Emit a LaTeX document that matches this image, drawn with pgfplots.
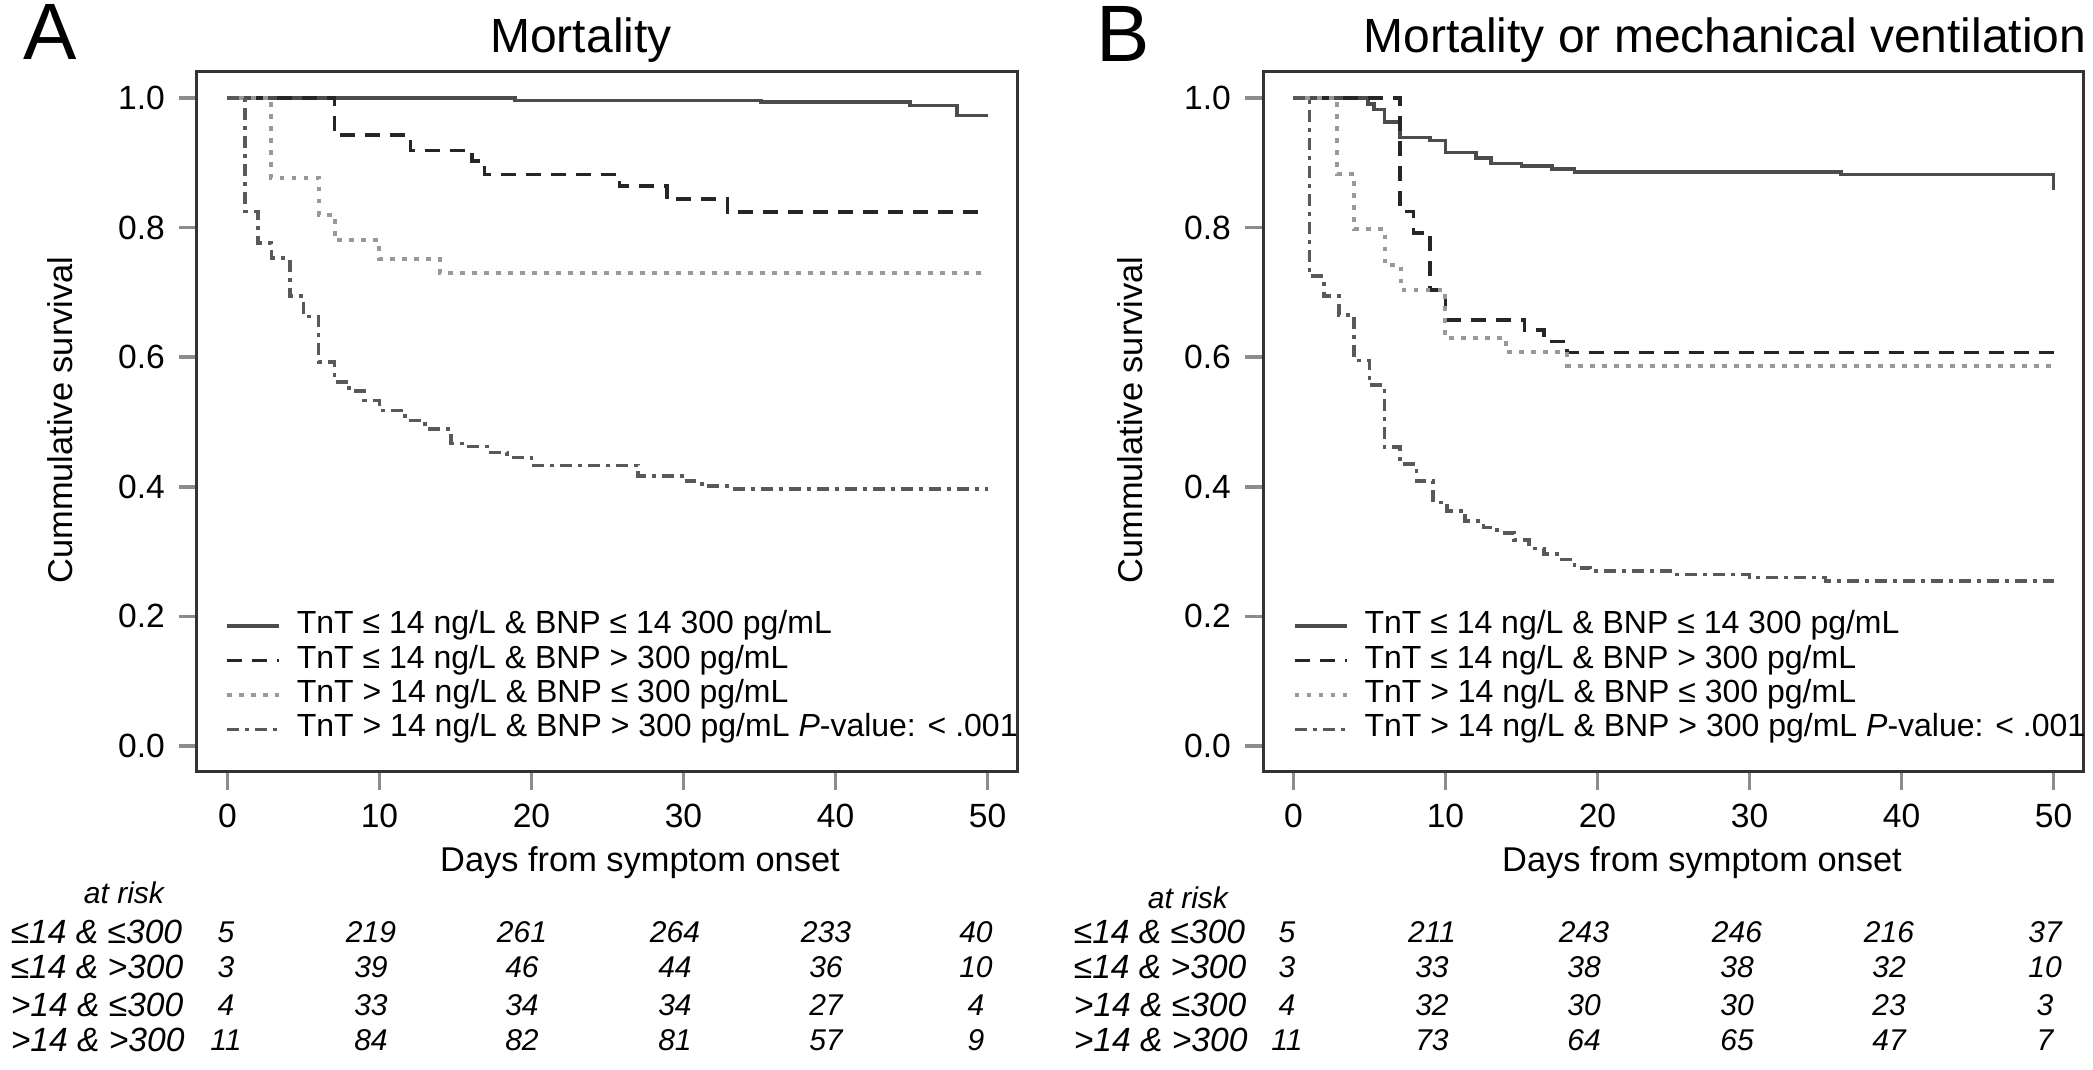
\documentclass[border=0pt]{standalone}
\usepackage{fontspec}
\setmainfont{Liberation Sans}
\usepackage{pgfplots}
\pgfplotsset{compat=1.18}

\pgfplotsset{
  kmaxis/.style={
    scale only axis, width=205.25pt, height=175pt, anchor=south west,
    xmin=-2, xmax=52, ymin=-0.04, ymax=1.04,
    xtick={0,10,...,50}, ytick={0,0.2,0.4,0.6,0.8,1.0},
    xtick pos=bottom, ytick pos=left, tick align=outside,
    major tick length=4.5pt,
    tick style={draw=black!45, line width=0.9pt},
    axis line style={draw=black!80, line width=0.75pt},
    ticklabel style={font=\fontsize{8.4}{10}\selectfont},
    yticklabel style={/pgf/number format/fixed, /pgf/number format/fixed zerofill, /pgf/number format/precision=1},
    /pgf/number format/assume math mode=true,
    clip=false,
    legend cell align=left,
    legend style={draw=none, fill=none, anchor=north west,
      font=\fontsize{8}{9}\selectfont, inner sep=0pt, row sep=0pt,
      nodes={inner sep=0pt, text height=6.2pt, text depth=2.4pt}},
    legend image code/.code={\draw[##1] (0pt,0pt) -- (13pt,0pt); \path (17pt,0pt);},
  },
  s1/.style={const plot, no marks, draw=black!70, line width=0.9pt},
  s2/.style={const plot, no marks, draw=black!85, line width=0.9pt, dash pattern=on 3.75pt off 2.5pt},
  s3/.style={const plot, no marks, draw=black!40, line width=1pt, dash pattern=on 1.2pt off 1.8pt},
  s4/.style={const plot, no marks, draw=black!65, line width=0.9pt, dash pattern=on 3pt off 1.5pt on 1pt off 1.5pt},
}

\begin{document}
\begin{tikzpicture}
\useasboundingbox (0,0) rectangle (523.25pt,267.5pt);

% Panel A: mortality
\begin{axis}[kmaxis, at={(49.25pt,74.5pt)}, legend style={at={(0.033,0.234)}}]
\addplot[s1] coordinates {(0,1) (18.9,0.996) (35.1,0.994) (44.9,0.988) (48,0.973) (50,0.973)};
\addlegendentry{TnT ≤ 14 ng/L \& BNP ≤ 14 300 pg/mL}
\addplot[s2] coordinates {(0,1) (7.05,0.943) (12.05,0.919) (16.1,0.903) (16.9,0.882) (25.8,0.864) (28.9,0.844) (32.9,0.824) (50,0.824)};
\addlegendentry{TnT ≤ 14 ng/L \& BNP > 300 pg/mL}
\addplot[s3] coordinates {(0,1) (2.9,0.877) (6.0,0.82) (7.05,0.781) (10.0,0.751) (14.0,0.73) (50,0.73)};
\addlegendentry{TnT > 14 ng/L \& BNP ≤ 300 pg/mL}
\addplot[s4] coordinates {(0,1) (1.15,0.825) (2.0,0.776) (2.9,0.753) (4.1,0.694) (5.0,0.663) (6.0,0.593) (7.05,0.562) (8.0,0.548) (9.0,0.533) (10.0,0.518) (11.7,0.502) (13.0,0.489) (14.7,0.467) (15.7,0.462) (17.1,0.453) (18.4,0.445) (20,0.433) (27,0.417) (30.2,0.409) (31.2,0.401) (32.9,0.397) (50,0.397)};
\addlegendentry{TnT > 14 ng/L \& BNP > 300 pg/mL \textit{P}-value: < .001}
\end{axis}

% Panel B: mortality or mechanical ventilation
\begin{axis}[kmaxis, at={(315.75pt,74.5pt)}, legend style={at={(0.035,0.234)}}]
\addplot[s1] coordinates {(0,1) (4.9,0.991) (5.3,0.982) (6.0,0.963) (7.0,0.939) (9.0,0.934) (10.0,0.916) (12.0,0.907) (13.0,0.899) (15.0,0.895) (17.0,0.89) (18.5,0.886) (36,0.882) (50,0.858)};
\addlegendentry{TnT ≤ 14 ng/L \& BNP ≤ 14 300 pg/mL}
\addplot[s2] coordinates {(0,1) (7.0,0.825) (7.9,0.792) (9.0,0.704) (10.0,0.657) (15.2,0.642) (16.5,0.624) (18,0.607) (50,0.607)};
\addlegendentry{TnT ≤ 14 ng/L \& BNP > 300 pg/mL}
\addplot[s3] coordinates {(0,1) (2.9,0.882) (4.0,0.797) (6.0,0.742) (7.06,0.704) (10.0,0.629) (14.0,0.608) (18.0,0.587) (50,0.587)};
\addlegendentry{TnT > 14 ng/L \& BNP ≤ 300 pg/mL}
\addplot[s4] coordinates {(0,1) (1.07,0.725) (2.0,0.694) (3.0,0.665) (4.0,0.595) (5.0,0.557) (6.0,0.461) (7.0,0.435) (8.1,0.409) (9.2,0.376) (10.1,0.363) (11.3,0.347) (12.5,0.337) (13.4,0.329) (14.5,0.318) (15.5,0.305) (16.5,0.296) (17.5,0.288) (18.5,0.275) (19.5,0.27) (25,0.265) (30,0.26) (35,0.255) (50,0.255)};
\addlegendentry{TnT > 14 ng/L \& BNP > 300 pg/mL \textit{P}-value: < .001}
\end{axis}

% texts placed in pixel units of the reference (origin top left)
\begin{scope}[x=0.25pt, y=-0.25pt, yshift=267.5pt]
  \node[anchor=base, font=\fontsize{20}{22}\selectfont] at (50,60) {A};
  \node[anchor=base, font=\fontsize{20}{22}\selectfont] at (1123,62) {B};
  \node[anchor=base, font=\fontsize{12}{14}\selectfont] at (581,53) {Mortality};
  \node[anchor=base, font=\fontsize{12}{14}\selectfont] at (1725,53) {Mortality or mechanical ventilation};
  \node[anchor=base, font=\fontsize{8.6}{10}\selectfont] at (640,872) {Days from symptom onset};
  \node[anchor=base, font=\fontsize{8.6}{10}\selectfont] at (1702,872) {Days from symptom onset};
  \node[rotate=90, font=\fontsize{8.6}{10}\selectfont] at (60,420) {Cummulative survival};
  \node[rotate=90, font=\fontsize{8.6}{10}\selectfont] at (1130,420) {Cummulative survival};

  % at-risk tables
  \begin{scope}[every node/.style={font=\fontsize{7.5}{8.5}\itshape, inner sep=0pt}]
    \node at (124,893) {at risk};
    \node at (1188,898) {at risk};
    \foreach \y/\lab in {932/{≤14 \& ≤300}, 967/{≤14 \& >300}, 1005/{>14 \& ≤300}, 1040/{>14 \& >300}} {
      \node[anchor=west, font=\fontsize{8.4}{9}\itshape] at (10,\y) {\lab};
      \node[anchor=west, font=\fontsize{8.4}{9}\itshape] at (1073,\y) {\lab};
    }
    \foreach \x/\a/\b/\c/\d in {226/5/3/4/11, 371/219/39/33/84, 522/261/46/34/82, 675/264/44/34/81, 826/233/36/27/57, 976/40/10/4/9} {
      \node at (\x,932) {\a};
      \node at (\x,967) {\b};
      \node at (\x,1005) {\c};
      \node at (\x,1040) {\d};
    }
    \foreach \x/\a/\b/\c/\d in {1287/5/3/4/11, 1432/211/33/32/73, 1584/243/38/30/64, 1737/246/38/30/65, 1889/216/32/23/47, 2045/37/10/3/7} {
      \node at (\x,932) {\a};
      \node at (\x,967) {\b};
      \node at (\x,1005) {\c};
      \node at (\x,1040) {\d};
    }
  \end{scope}
\end{scope}
\end{tikzpicture}
\end{document}
